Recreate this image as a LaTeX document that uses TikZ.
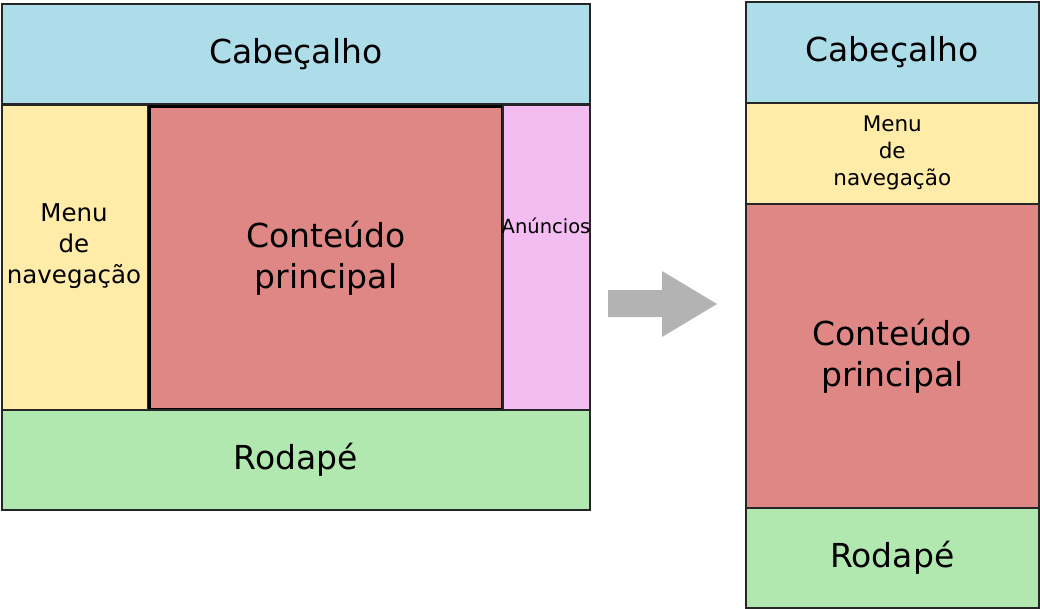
\documentclass[tikz,border=0pt]{standalone}
\usepackage{fontspec}
\setmainfont{DejaVu Sans}
\usetikzlibrary{positioning}

\definecolor{headblue}{HTML}{ADDDE9}
\definecolor{menuyellow}{HTML}{FFECA9}
\definecolor{mainred}{HTML}{DE8785}
\definecolor{adspink}{HTML}{F4BDF2}
\definecolor{footgreen}{HTML}{B0E8B0}
\definecolor{arrowgray}{HTML}{B3B3B3}

\begin{document}
\begin{tikzpicture}[
    x=1pt, y=-1pt,
    box/.style={rectangle, draw=black!85, line width=1.5pt, anchor=north west, inner sep=0pt, align=center},
    mainbox/.style={box, draw=black, line width=3pt},
    big/.style={font=\fontsize{33}{41}\selectfont},
    menutext/.style={align=center, font=\fontsize{24.5}{31}\selectfont},
    smalltext/.style={align=center, font=\fontsize{21.5}{27}\selectfont}
]
    \useasboundingbox (0,0) rectangle (1040,608);

    % Nodes (desktop layout)
    \node [box, fill=headblue, minimum width=588pt, minimum height=100pt, big] (headL) at (1,3) {Cabeçalho};
    \node [box, fill=menuyellow, minimum width=146pt, minimum height=305pt] (menuL) at (1,104) {};
    \node [mainbox, fill=mainred, minimum width=353pt, minimum height=303pt, big] (mainL) at (148,105) {Conteúdo\\principal};
    \node [box, fill=adspink, minimum width=87pt, minimum height=305pt] (adsL) at (502,104) {};
    \node [box, fill=footgreen, minimum width=588pt, minimum height=100pt, big] (footL) at (1,409) {Rodapé};
    \node [menutext] (menuLtext) at (74,246) {Menu\\de\\navegação};
    \node [font=\fontsize{19.5}{23}\selectfont] (adsLtext) at (546,226) {Anúncios};

    % Nodes (mobile layout)
    \node [box, fill=headblue, minimum width=293pt, minimum height=101pt, big] (headR) at (745,1) {Cabeçalho};
    \node [box, fill=menuyellow, minimum width=293pt, minimum height=101pt, smalltext] (menuR) at (745,102) {Menu\\de\\navegação};
    \node [box, fill=mainred, minimum width=293pt, minimum height=304pt, big] (mainR) at (745,203) {Conteúdo\\principal};
    \node [box, fill=footgreen, minimum width=293pt, minimum height=100pt, big] (footR) at (745,507) {Rodapé};

    % Arrow
    \fill [arrowgray] (608,290) -- (662,290) -- (662,271) -- (717,304) -- (662,337) -- (662,317) -- (608,317) -- cycle;

\end{tikzpicture}
\end{document}
